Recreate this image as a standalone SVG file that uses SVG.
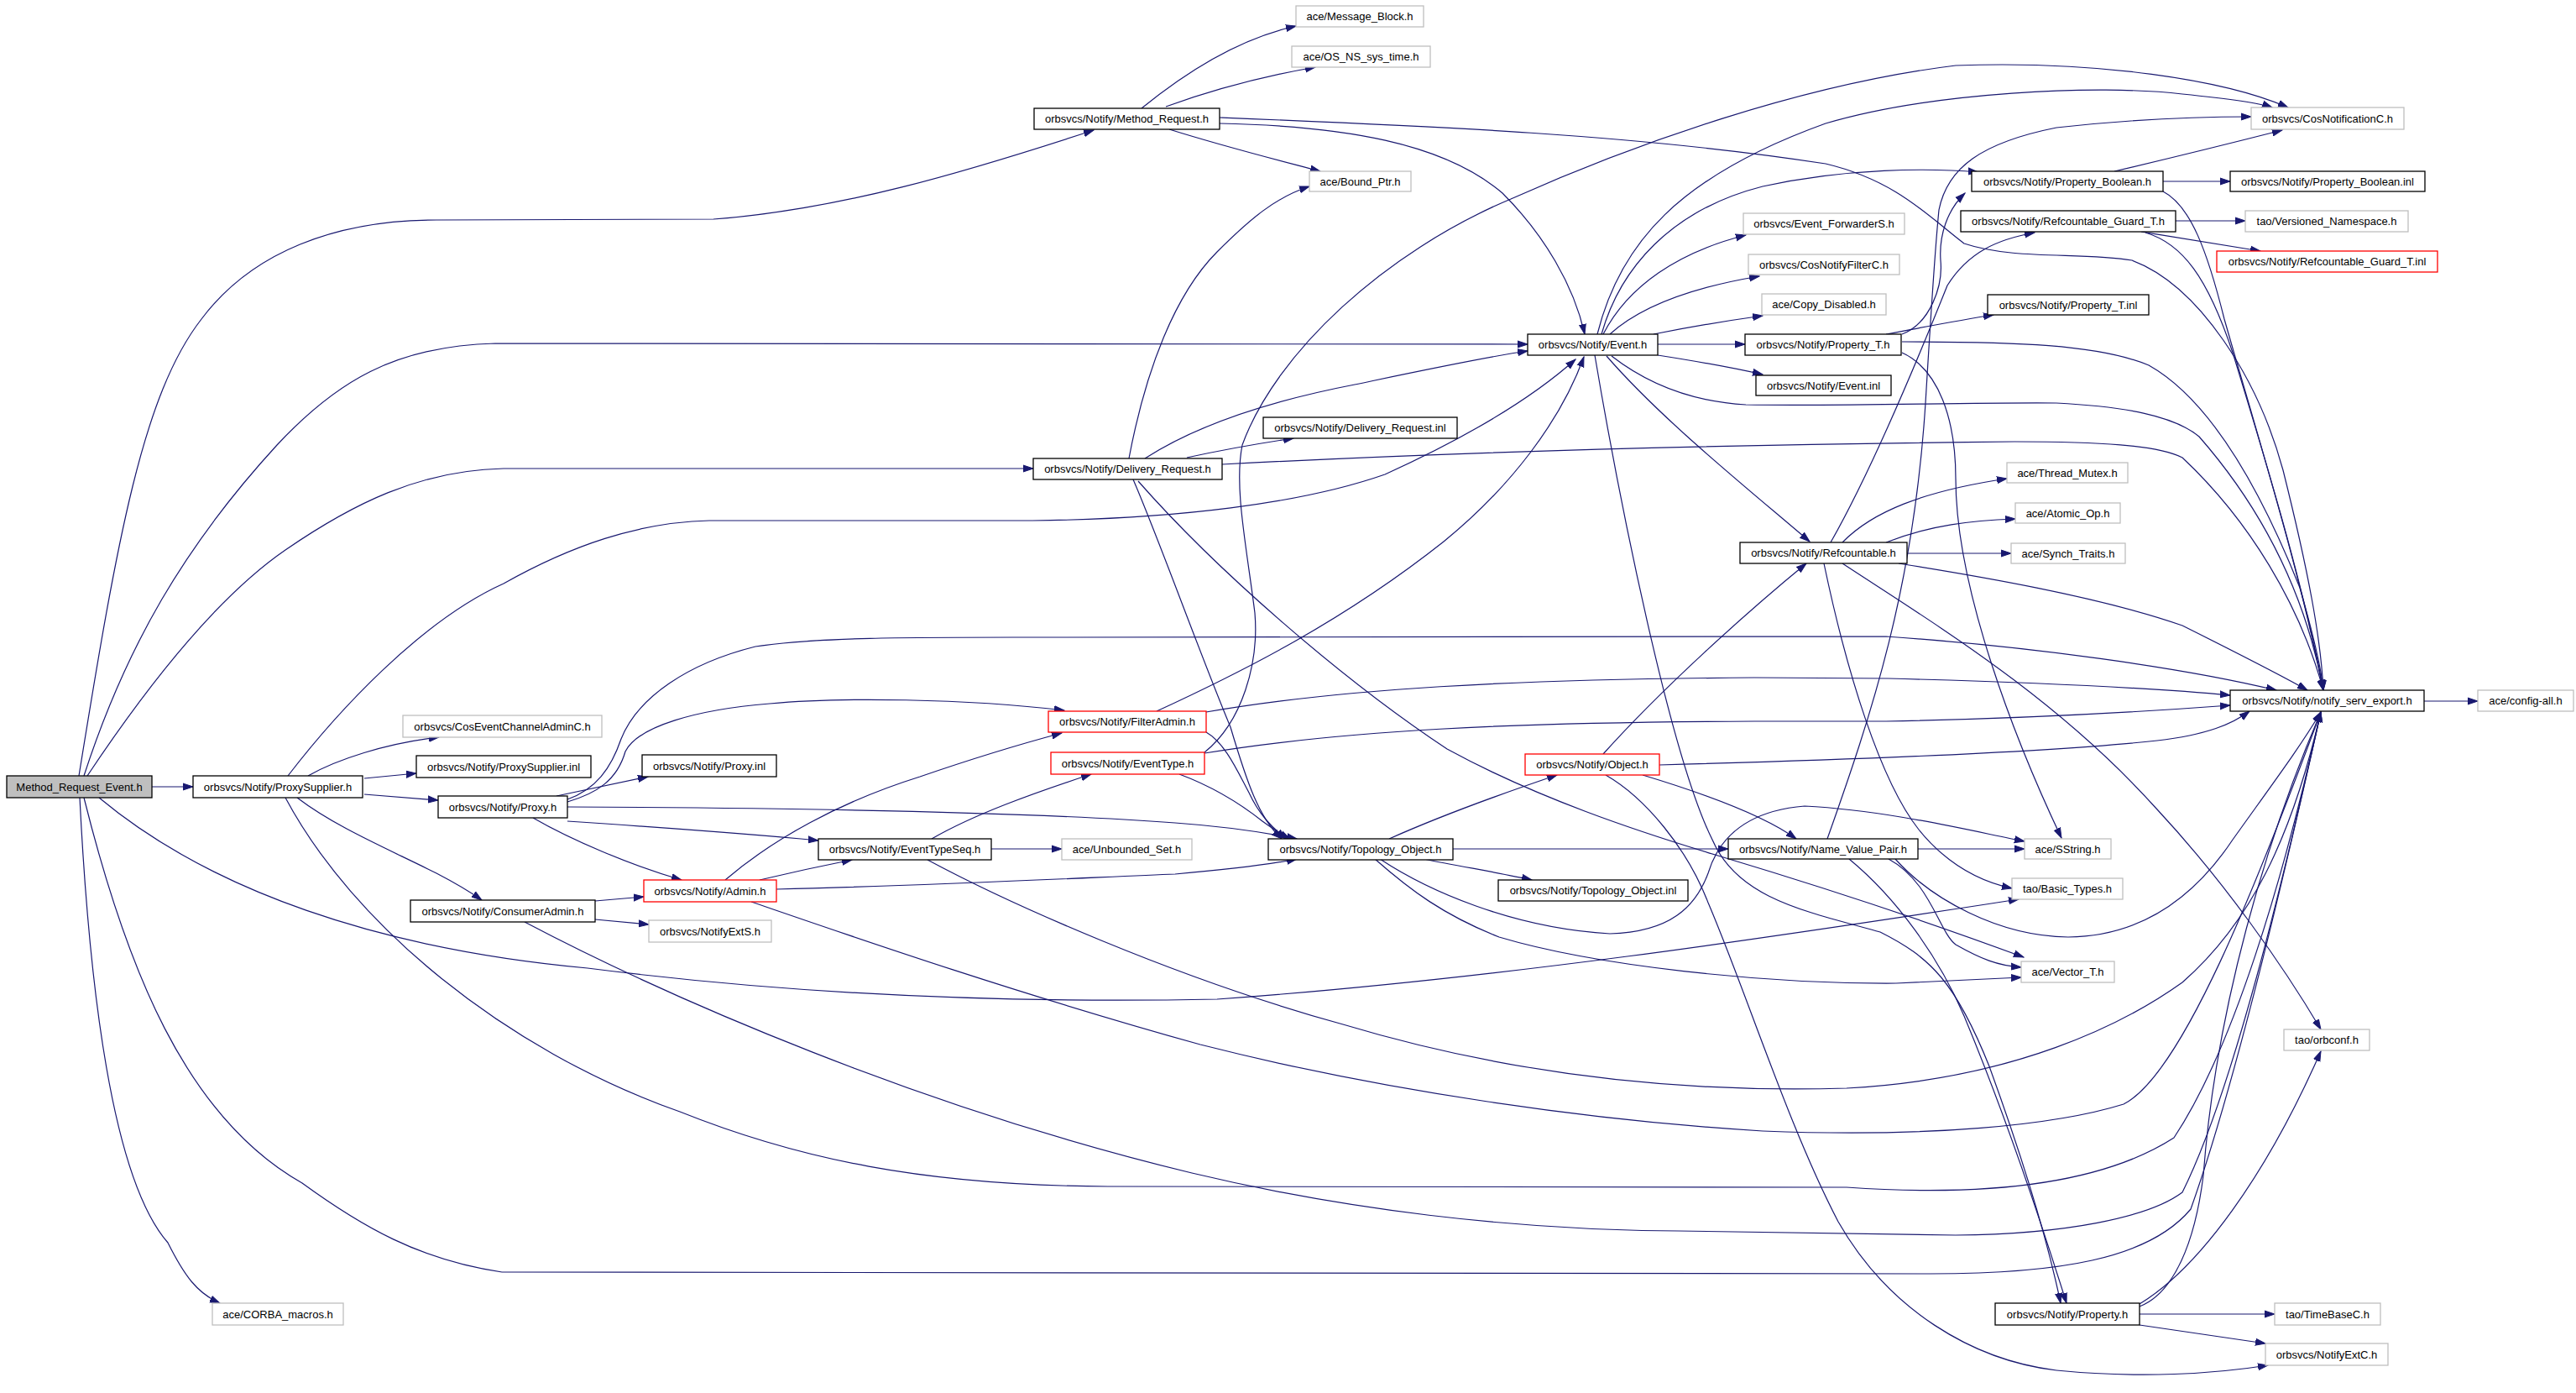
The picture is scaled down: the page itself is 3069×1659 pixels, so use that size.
<svg xmlns="http://www.w3.org/2000/svg" width="3069" height="1659" viewBox="0 0 3069 1659">
<defs>
<marker id="a" markerUnits="userSpaceOnUse" markerWidth="13" markerHeight="10" refX="12" refY="5" orient="auto" viewBox="0 0 13 10"><path d="M0,1 L12,5 L0,9 z" fill="#191970" stroke="#191970" stroke-width="1"/></marker>
</defs>
<style>
.node rect{fill:#ffffff;stroke:#000000;stroke-width:1.3}
.node.g rect{stroke:#bfbfbf}
.node.r rect{stroke:#ff0000}
.node.m rect{fill:#bfbfbf}
.node text{font-family:"Liberation Sans",Arial,sans-serif;font-size:13px;fill:#000000;text-anchor:middle}
.e{fill:none;stroke:#191970;stroke-width:1.2;marker-end:url(#a)}
</style>
<rect x="0" y="0" width="3069" height="1659" fill="#ffffff"/>
<g id="edges">
<path class="e" d="M94,924 C140,640 170,470 240,380 C300,300 400,262 520,262 L850,261 C1000,250 1150,205 1303,155"/>
<path class="e" d="M100,924 C150,770 220,650 330,530 C400,455 470,412 590,409 L1820,410"/>
<path class="e" d="M104,924 C180,810 260,710 340,655 C420,600 500,560 600,558 L1231,558"/>
<path class="e" d="M181,937 L230,937"/>
<path class="e" d="M100,950 C150,1150 220,1330 360,1409 C430,1460 500,1501 598,1515 L2300,1517 C2450,1517 2560,1500 2610,1440 C2660,1300 2720,1050 2765,848"/>
<path class="e" d="M95,950 C105,1150 130,1400 200,1480 C220,1520 235,1540 262,1552"/>
<path class="e" d="M118,950 C250,1060 450,1130 700,1153 C950,1185 1200,1195 1450,1190 C1800,1165 2150,1110 2405,1071"/>
<path class="e" d="M367,924 C400,905 460,885 523,878"/>
<path class="e" d="M434,927 L496,921"/>
<path class="e" d="M434,946 L522,953"/>
<path class="e" d="M354,950 C400,985 460,1010 520,1040 C545,1053 560,1062 574,1072"/>
<path class="e" d="M343,924 C400,850 500,740 600,695 C680,650 760,622 845,620 L1230,620 C1400,618 1550,600 1650,565 C1760,515 1830,470 1877,428"/>
<path class="e" d="M340,950 C420,1100 600,1250 810,1324 C950,1380 1100,1412 1320,1413 L2200,1414 C2400,1428 2520,1400 2590,1355 C2660,1250 2720,1050 2765,848"/>
<path class="e" d="M663,948 L772,925"/>
<path class="e" d="M676,952 C710,940 728,915 740,880 C760,830 820,790 900,770 C980,758 1100,759 1250,759 L2247,758 C2420,770 2600,795 2712,822"/>
<path class="e" d="M676,955 C710,945 735,930 745,895 C760,865 830,845 917,838 C1000,830 1150,832 1268,846"/>
<path class="e" d="M676,961 C900,962 1200,965 1400,980 C1470,985 1510,992 1545,999"/>
<path class="e" d="M676,978 C780,985 880,992 975,1001"/>
<path class="e" d="M635,974 C680,1000 750,1030 812,1048"/>
<path class="e" d="M709,1073 L767,1068"/>
<path class="e" d="M709,1095 L773,1101"/>
<path class="e" d="M625,1098 C800,1190 1100,1320 1420,1397 C1600,1440 1800,1465 2000,1466 L2330,1471 C2460,1470 2560,1450 2600,1420 C2660,1300 2720,1050 2765,848"/>
<path class="e" d="M864,1048 C920,1000 1000,955 1096,925 C1160,903 1220,885 1265,873"/>
<path class="e" d="M905,1048 Q960,1035 1015,1024"/>
<path class="e" d="M925,1059 C1100,1055 1300,1045 1400,1041 C1470,1035 1510,1030 1545,1023"/>
<path class="e" d="M895,1074 C1000,1110 1200,1180 1430,1244 C1650,1300 1900,1335 2100,1347 C2300,1355 2450,1340 2530,1315 C2600,1280 2690,1050 2765,848"/>
<path class="e" d="M1110,999 C1160,970 1230,945 1300,922"/>
<path class="e" d="M1181,1011 L1265,1011"/>
<path class="e" d="M1105,1024 C1200,1075 1400,1165 1600,1220 C1800,1280 2000,1302 2200,1296 C2400,1285 2530,1220 2600,1170 C2680,1100 2730,1000 2765,848"/>
<path class="e" d="M1378,847 C1480,800 1600,740 1720,645 C1800,580 1860,500 1887,425"/>
<path class="e" d="M1437,848 C1600,820 1800,809 2090,807 L2250,808 C2400,812 2550,818 2657,828"/>
<path class="e" d="M1437,872 C1460,885 1475,920 1488,944 C1500,970 1515,985 1532,999"/>
<path class="e" d="M1435,896 C1480,860 1500,790 1495,730 C1485,650 1470,580 1480,530 C1520,420 1650,300 1800,237 C1950,170 2150,100 2330,78 C2500,72 2650,95 2726,128"/>
<path class="e" d="M1435,897 C1600,870 1800,860 2090,859 L2247,859 C2400,856 2550,848 2657,840"/>
<path class="e" d="M1405,922 C1440,935 1475,955 1504,978 C1515,986 1525,993 1537,999"/>
<path class="e" d="M1345,546 C1365,440 1400,350 1450,300 C1490,260 1520,235 1560,222"/>
<path class="e" d="M1364,546 C1420,510 1500,480 1614,458 C1700,440 1770,425 1820,418"/>
<path class="e" d="M1414,545 C1460,535 1500,528 1541,522"/>
<path class="e" d="M1456,553 C1700,540 2000,530 2400,526 C2500,526 2570,530 2600,545 C2680,620 2740,720 2768,822"/>
<path class="e" d="M1350,571 C1380,640 1430,780 1466,866 C1485,930 1500,975 1527,999"/>
<path class="e" d="M1356,573 C1450,680 1600,810 1724,892 C1830,950 1950,990 2050,1020 C2200,1065 2330,1110 2411,1140"/>
<path class="e" d="M1360,129 C1420,80 1480,45 1544,31"/>
<path class="e" d="M1389,127 C1450,105 1510,90 1567,80"/>
<path class="e" d="M1393,154 C1460,175 1520,190 1573,204"/>
<path class="e" d="M1453,147 C1600,150 1720,170 1790,230 C1840,280 1875,340 1888,398"/>
<path class="e" d="M1453,140 C1700,150 1950,160 2175,195 C2260,215 2300,260 2340,290 C2400,310 2480,300 2540,310 C2620,340 2690,450 2720,560 C2750,680 2765,760 2768,822"/>
<path class="e" d="M1910,398 C1940,340 2000,300 2080,280"/>
<path class="e" d="M1918,398 C1960,360 2030,340 2096,329"/>
<path class="e" d="M1970,398 C2010,390 2050,383 2100,376"/>
<path class="e" d="M1975,410 L2079,410"/>
<path class="e" d="M1975,423 C2020,430 2060,437 2100,446"/>
<path class="e" d="M1914,424 C1980,500 2080,580 2156,645"/>
<path class="e" d="M1908,398 C1930,320 1990,250 2100,222 C2200,200 2300,200 2357,205"/>
<path class="e" d="M1903,398 C1930,290 2000,210 2175,147 C2300,110 2500,100 2600,112 C2650,117 2690,122 2707,128"/>
<path class="e" d="M1920,424 C1960,455 2010,478 2080,482 C2200,484 2350,479 2450,480 C2530,484 2590,495 2620,520 C2690,600 2745,700 2768,822"/>
<path class="e" d="M1900,423 C1930,600 1990,900 2040,1000 C2070,1070 2150,1085 2240,1110 C2300,1140 2330,1170 2370,1270 C2410,1380 2440,1480 2455,1552"/>
<path class="e" d="M2247,398 C2290,390 2330,382 2375,375"/>
<path class="e" d="M2266,407 C2400,407 2500,410 2560,435 C2640,480 2700,600 2740,700 C2760,770 2766,800 2768,822"/>
<path class="e" d="M2266,420 C2310,440 2330,500 2330,570 C2330,700 2400,880 2456,998"/>
<path class="e" d="M2266,398 C2300,385 2315,340 2312,310 C2310,280 2320,250 2341,230"/>
<path class="e" d="M2177,999 C2230,850 2280,700 2294,480 C2300,380 2305,300 2310,250 C2320,200 2360,170 2450,152 C2540,142 2620,139 2682,139"/>
<path class="e" d="M2181,646 C2230,560 2280,440 2320,340 C2345,300 2380,285 2424,277"/>
<path class="e" d="M2195,646 C2230,610 2290,585 2391,570"/>
<path class="e" d="M2247,646 C2300,625 2350,620 2401,618"/>
<path class="e" d="M2272,659 L2396,659"/>
<path class="e" d="M2173,671 C2200,800 2240,930 2286,988 C2320,1030 2360,1050 2397,1058"/>
<path class="e" d="M2195,671 C2300,740 2450,830 2570,964 C2650,1050 2720,1150 2765,1226"/>
<path class="e" d="M2262,671 C2350,685 2500,710 2600,745 C2660,775 2710,800 2749,822"/>
<path class="e" d="M1910,898 C1980,820 2080,730 2152,671"/>
<path class="e" d="M1977,911 C2200,905 2450,895 2570,882 C2630,875 2660,862 2680,847"/>
<path class="e" d="M1957,923 C2030,945 2100,970 2140,999"/>
<path class="e" d="M1913,923 C1960,950 2010,1010 2035,1075 C2080,1180 2130,1340 2190,1455 C2250,1560 2350,1620 2450,1632 C2550,1642 2640,1636 2702,1626"/>
<path class="e" d="M1655,999 C1720,970 1790,945 1855,923"/>
<path class="e" d="M1731,1011 L2059,1011"/>
<path class="e" d="M1696,1023 C1740,1032 1790,1040 1825,1048"/>
<path class="e" d="M1644,1023 C1700,1060 1800,1105 1918,1112 C1990,1110 2020,1080 2035,1040 C2050,990 2090,965 2150,960 C2250,965 2350,990 2412,1002"/>
<path class="e" d="M1638,1023 C1680,1060 1720,1090 1786,1116 C1900,1150 2100,1172 2259,1171 L2408,1164"/>
<path class="e" d="M2285,1011 L2412,1011"/>
<path class="e" d="M2203,1023 C2260,1070 2310,1140 2340,1210 C2390,1330 2430,1450 2462,1552"/>
<path class="e" d="M2250,1023 C2300,1050 2310,1110 2330,1125 C2360,1142 2380,1150 2408,1152"/>
<path class="e" d="M2258,1023 C2300,1070 2380,1115 2464,1116 C2560,1115 2620,1060 2660,1000 C2710,930 2740,890 2765,848"/>
<path class="e" d="M2549,1565 L2710,1565"/>
<path class="e" d="M2549,1578 L2699,1600"/>
<path class="e" d="M2549,1553 C2620,1510 2700,1400 2765,1252"/>
<path class="e" d="M2549,1556 C2590,1540 2615,1480 2625,1400 C2640,1200 2700,1000 2765,848"/>
<path class="e" d="M2577,216 L2657,216"/>
<path class="e" d="M2519,204 C2600,185 2660,170 2719,155"/>
<path class="e" d="M2577,228 C2610,245 2630,300 2650,380 C2690,520 2740,680 2768,822"/>
<path class="e" d="M2592,263 L2675,263"/>
<path class="e" d="M2551,276 C2600,284 2650,292 2693,299"/>
<path class="e" d="M2556,277 C2600,290 2630,330 2660,420 C2700,550 2745,700 2768,822"/>
<path class="e" d="M2888,835 L2952,835"/>
</g>
<g id="n_mre" class="node m"><rect x="8" y="924" width="173" height="26"/><text x="94.5" y="941.5">Method_Request_Event.h</text></g>
<g id="n_proxysupplier" class="node"><rect x="230" y="924" width="202" height="26"/><text x="331" y="941.5">orbsvcs/Notify/ProxySupplier.h</text></g>
<g id="n_coseventchanneladminc" class="node g"><rect x="480" y="852" width="237" height="26"/><text x="598.5" y="869.5">orbsvcs/CosEventChannelAdminC.h</text></g>
<g id="n_proxysupplier_inl" class="node"><rect x="496" y="900" width="208" height="26"/><text x="600" y="917.5">orbsvcs/Notify/ProxySupplier.inl</text></g>
<g id="n_proxy" class="node"><rect x="522" y="948" width="154" height="26"/><text x="599" y="965.5">orbsvcs/Notify/Proxy.h</text></g>
<g id="n_proxy_inl" class="node"><rect x="765" y="899" width="160" height="26"/><text x="845" y="916.5">orbsvcs/Notify/Proxy.inl</text></g>
<g id="n_admin" class="node r"><rect x="767" y="1048" width="158" height="26"/><text x="846" y="1065.5">orbsvcs/Notify/Admin.h</text></g>
<g id="n_consumeradmin" class="node"><rect x="489" y="1072" width="220" height="26"/><text x="599" y="1089.5">orbsvcs/Notify/ConsumerAdmin.h</text></g>
<g id="n_notifyexts" class="node g"><rect x="773" y="1096" width="146" height="26"/><text x="846" y="1113.5">orbsvcs/NotifyExtS.h</text></g>
<g id="n_eventtypeseq" class="node"><rect x="975" y="999" width="206" height="25"/><text x="1078" y="1016">orbsvcs/Notify/EventTypeSeq.h</text></g>
<g id="n_unbounded_set" class="node g"><rect x="1265" y="999" width="155" height="25"/><text x="1342.5" y="1016">ace/Unbounded_Set.h</text></g>
<g id="n_filteradmin" class="node r"><rect x="1249" y="847" width="188" height="25"/><text x="1343" y="864">orbsvcs/Notify/FilterAdmin.h</text></g>
<g id="n_eventtype" class="node r"><rect x="1252" y="896" width="183" height="26"/><text x="1343.5" y="913.5">orbsvcs/Notify/EventType.h</text></g>
<g id="n_topology_object" class="node"><rect x="1511" y="999" width="220" height="25"/><text x="1621" y="1016">orbsvcs/Notify/Topology_Object.h</text></g>
<g id="n_topology_object_inl" class="node"><rect x="1785" y="1048" width="226" height="25"/><text x="1898" y="1065">orbsvcs/Notify/Topology_Object.inl</text></g>
<g id="n_object" class="node r"><rect x="1817" y="898" width="160" height="25"/><text x="1897" y="915">orbsvcs/Notify/Object.h</text></g>
<g id="n_message_block" class="node g"><rect x="1544" y="7" width="152" height="25"/><text x="1620" y="24">ace/Message_Block.h</text></g>
<g id="n_os_ns_sys_time" class="node g"><rect x="1539" y="55" width="165" height="25"/><text x="1621.5" y="72">ace/OS_NS_sys_time.h</text></g>
<g id="n_method_request" class="node"><rect x="1232" y="129" width="221" height="25"/><text x="1342.5" y="146">orbsvcs/Notify/Method_Request.h</text></g>
<g id="n_bound_ptr" class="node g"><rect x="1560" y="204" width="121" height="24"/><text x="1620.5" y="220.5">ace/Bound_Ptr.h</text></g>
<g id="n_delivery_request_inl" class="node"><rect x="1505" y="497" width="231" height="25"/><text x="1620.5" y="514">orbsvcs/Notify/Delivery_Request.inl</text></g>
<g id="n_delivery_request" class="node"><rect x="1231" y="546" width="225" height="25"/><text x="1343.5" y="563">orbsvcs/Notify/Delivery_Request.h</text></g>
<g id="n_event" class="node"><rect x="1820" y="398" width="155" height="25"/><text x="1897.5" y="415">orbsvcs/Notify/Event.h</text></g>
<g id="n_event_forwarders" class="node g"><rect x="2077" y="254" width="192" height="25"/><text x="2173" y="271">orbsvcs/Event_ForwarderS.h</text></g>
<g id="n_cosnotifyfilterc" class="node g"><rect x="2083" y="303" width="180" height="24"/><text x="2173" y="319.5">orbsvcs/CosNotifyFilterC.h</text></g>
<g id="n_copy_disabled" class="node g"><rect x="2099" y="350" width="148" height="25"/><text x="2173" y="367">ace/Copy_Disabled.h</text></g>
<g id="n_property_t" class="node"><rect x="2079" y="398" width="186" height="25"/><text x="2172" y="415">orbsvcs/Notify/Property_T.h</text></g>
<g id="n_event_inl" class="node"><rect x="2092" y="447" width="161" height="24"/><text x="2172.5" y="463.5">orbsvcs/Notify/Event.inl</text></g>
<g id="n_refcountable" class="node"><rect x="2073" y="646" width="199" height="25"/><text x="2172.5" y="663">orbsvcs/Notify/Refcountable.h</text></g>
<g id="n_name_value_pair" class="node"><rect x="2059" y="999" width="226" height="24"/><text x="2172" y="1015.5">orbsvcs/Notify/Name_Value_Pair.h</text></g>
<g id="n_property" class="node"><rect x="2377" y="1552" width="172" height="26"/><text x="2463" y="1569.5">orbsvcs/Notify/Property.h</text></g>
<g id="n_cosnotificationc" class="node g"><rect x="2682" y="128" width="182" height="26"/><text x="2773" y="145.5">orbsvcs/CosNotificationC.h</text></g>
<g id="n_property_boolean" class="node"><rect x="2349" y="204" width="228" height="24"/><text x="2463" y="220.5">orbsvcs/Notify/Property_Boolean.h</text></g>
<g id="n_property_boolean_inl" class="node"><rect x="2657" y="204" width="232" height="24"/><text x="2773" y="220.5">orbsvcs/Notify/Property_Boolean.inl</text></g>
<g id="n_refcountable_guard_t" class="node"><rect x="2336" y="251" width="256" height="25"/><text x="2464" y="268">orbsvcs/Notify/Refcountable_Guard_T.h</text></g>
<g id="n_versioned_namespace" class="node g"><rect x="2675" y="251" width="194" height="25"/><text x="2772" y="268">tao/Versioned_Namespace.h</text></g>
<g id="n_refcountable_guard_t_inl" class="node r"><rect x="2641" y="299" width="263" height="25"/><text x="2772.5" y="316">orbsvcs/Notify/Refcountable_Guard_T.inl</text></g>
<g id="n_property_t_inl" class="node"><rect x="2368" y="351" width="192" height="24"/><text x="2464" y="367.5">orbsvcs/Notify/Property_T.inl</text></g>
<g id="n_thread_mutex" class="node g"><rect x="2391" y="551" width="144" height="24"/><text x="2463" y="567.5">ace/Thread_Mutex.h</text></g>
<g id="n_atomic_op" class="node g"><rect x="2401" y="599" width="125" height="24"/><text x="2463.5" y="615.5">ace/Atomic_Op.h</text></g>
<g id="n_synch_traits" class="node g"><rect x="2396" y="647" width="136" height="24"/><text x="2464" y="663.5">ace/Synch_Traits.h</text></g>
<g id="n_notify_serv_export" class="node"><rect x="2657" y="822" width="231" height="25"/><text x="2772.5" y="839">orbsvcs/Notify/notify_serv_export.h</text></g>
<g id="n_config_all" class="node g"><rect x="2952" y="822" width="114" height="25"/><text x="3009" y="839">ace/config-all.h</text></g>
<g id="n_sstring" class="node g"><rect x="2412" y="999" width="103" height="24"/><text x="2463.5" y="1015.5">ace/SString.h</text></g>
<g id="n_basic_types" class="node g"><rect x="2397" y="1046" width="132" height="25"/><text x="2463" y="1063">tao/Basic_Types.h</text></g>
<g id="n_vector_t" class="node g"><rect x="2408" y="1145" width="111" height="25"/><text x="2463.5" y="1162">ace/Vector_T.h</text></g>
<g id="n_orbconf" class="node g"><rect x="2721" y="1226" width="102" height="25"/><text x="2772" y="1243">tao/orbconf.h</text></g>
<g id="n_timebasec" class="node g"><rect x="2710" y="1552" width="126" height="26"/><text x="2773" y="1569.5">tao/TimeBaseC.h</text></g>
<g id="n_notifyextc" class="node g"><rect x="2699" y="1600" width="146" height="26"/><text x="2772" y="1617.5">orbsvcs/NotifyExtC.h</text></g>
<g id="n_corba_macros" class="node g"><rect x="253" y="1552" width="156" height="26"/><text x="331" y="1569.5">ace/CORBA_macros.h</text></g>
</svg>
